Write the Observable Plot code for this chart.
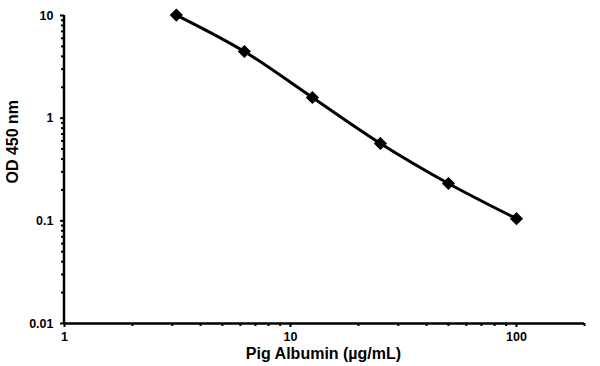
<!DOCTYPE html>
<html>
<head>
<meta charset="utf-8">
<script src="https://cdn.jsdelivr.net/npm/d3@7"></script>
<script src="https://cdn.jsdelivr.net/npm/@observablehq/plot@0.6"></script>
<style>
  html, body { margin: 0; padding: 0; background: #fff; }
  svg { font-family: "Liberation Sans", Arial, sans-serif; }
</style>
</head>
<body>
<div id="chart"></div>
<script>
const concentration = [3.125, 6.25, 12.5, 25, 50, 100];
const od450 = [10.1, 4.46, 1.59, 0.567, 0.231, 0.105];
const xMajorTicks = [1, 10, 100];
const yMajorTicks = [0.01, 0.1, 1, 10];
const xTitle = "Pig Albumin (µg/mL)";
const yTitle = "OD 450 nm";

const data = concentration.map((c, i) => ({c, od: od450[i]}));
const xMinor = [];
for (const d of [1, 10, 100]) for (let k = 2; k <= 9; k++) if (d * k <= 200) xMinor.push(d * k);
const yMinor = [];
for (const d of [0.01, 0.1, 1]) for (let k = 2; k <= 9; k++) yMinor.push(d * k);

const chart = Plot.plot({
  width: 600,
  height: 366,
  marginLeft: 64,
  marginRight: 16,
  marginTop: 15,
  marginBottom: 43,
  style: {fontFamily: "'Liberation Sans', Arial, sans-serif", background: "#fff", color: "#000"},
  x: {type: "log", domain: [1, 200]},
  y: {type: "log", domain: [0.01, 10]},
  marks: [
    Plot.axisX({ticks: xMinor, tickSize: 3, text: null, stroke: "#000", strokeWidth: 2, strokeOpacity: 1, label: null}),
    Plot.axisY({ticks: yMinor, tickSize: 3, text: null, stroke: "#000", strokeWidth: 2, strokeOpacity: 1, label: null}),
    Plot.axisX({ticks: xMajorTicks, tickSize: 4, tickPadding: 5, tickFormat: d => String(d), stroke: "#000", strokeWidth: 2, strokeOpacity: 1,
      fontSize: 12.5, fontWeight: "bold", fill: "#000", label: null}),
    Plot.axisY({ticks: yMajorTicks, tickSize: 4, tickPadding: 7, tickFormat: d => String(d), stroke: "#000", strokeWidth: 2, strokeOpacity: 1,
      fontSize: 12.5, fontWeight: "bold", fill: "#000", label: null}),
    Plot.ruleY([0.01], {x1: 1, x2: 200, stroke: "#000", strokeWidth: 2.5}),
    Plot.ruleX([1], {y1: 0.01, y2: 10, stroke: "#000", strokeWidth: 2.5, dx: -0.5}),
    Plot.line(data, {x: "c", y: "od", stroke: "#000", strokeWidth: 3, curve: "catmull-rom"}),
    Plot.dot(data, {x: "c", y: "od", symbol: "diamond2", r: 5, fill: "#000", stroke: "#000"}),
    Plot.text([xTitle], {frameAnchor: "bottom", dx: -1, dy: 35, fontSize: 16, fontWeight: "bold", fill: "#000"}),
    Plot.text([yTitle], {frameAnchor: "left", dx: -52, dy: 14, rotate: -90, fontSize: 16, fontWeight: "bold", fill: "#000"})
  ]
});
document.getElementById("chart").appendChild(chart);
</script>
</body>
</html>
